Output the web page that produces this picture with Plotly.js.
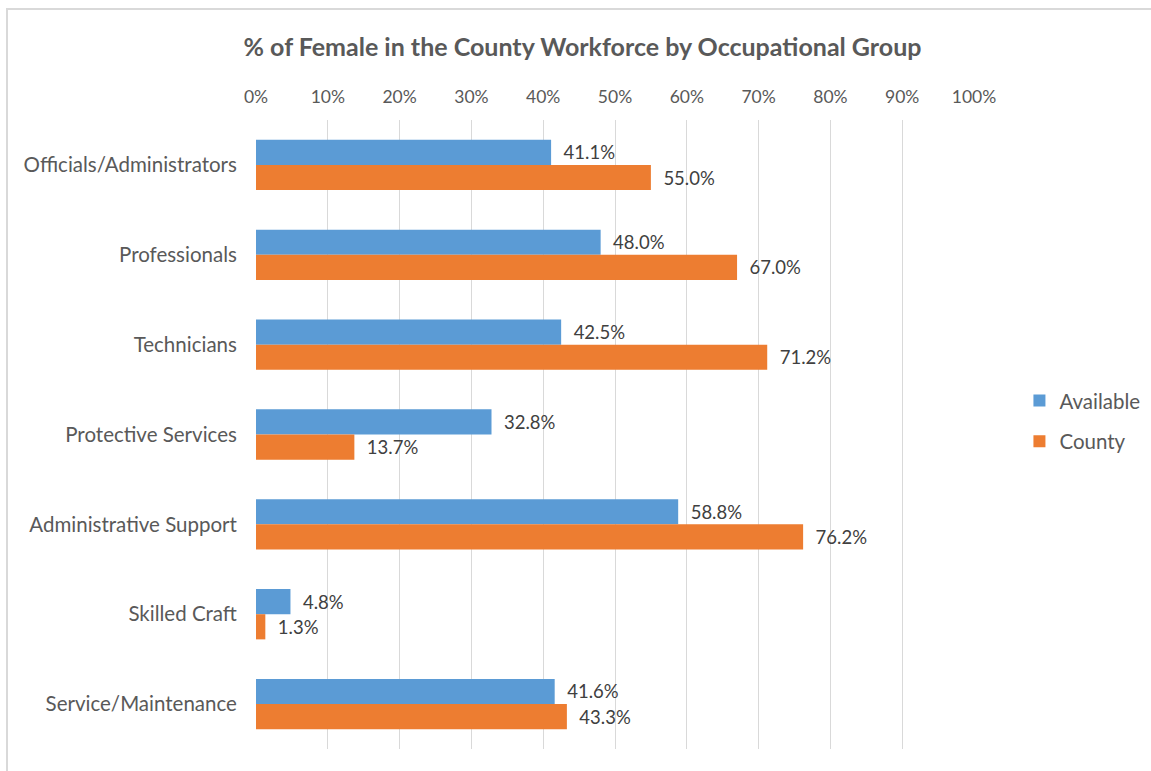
<!DOCTYPE html>
<html>
<head>
<meta charset="utf-8">
<script src="https://cdn.plot.ly/plotly-3.0.1.min.js"></script>
<style>
  html, body { margin: 0; padding: 0; background: #ffffff; }
  #frame { position: absolute; left: 6px; top: 8px; width: 1145px; height: 763px;
           border-top: 2px solid #d9d9d9; border-left: 2px solid #d9d9d9; box-sizing: border-box; pointer-events: none; z-index: 5; }
  #chart { position: absolute; left: 0; top: 0; width: 1151px; height: 771px; }
</style>
</head>
<body>
<div id="chart"></div>
<div id="frame"></div>
<script>
const categories = ["Officials/Administrators", "Professionals", "Technicians", "Protective Services", "Administrative Support", "Skilled Craft", "Service/Maintenance"];
const available = [41.1, 48.0, 42.5, 32.8, 58.8, 4.8, 41.6];
const county = [55.0, 67.0, 71.2, 13.7, 76.2, 1.3, 43.3];
const seriesNames = ["Available", "County"];
const tickVals = [0, 10, 20, 30, 40, 50, 60, 70, 80, 90, 100];
const tickLabels = ["0%", "10%", "20%", "30%", "40%", "50%", "60%", "70%", "80%", "90%", "100%"];

const FONT = "Lato, 'Open Sans', sans-serif";

const mk = (vals, name, color, grp) => ({
  type: 'bar', orientation: 'h', name: name, legendgroup: grp,
  x: vals, y: categories,
  marker: { color: color },
  text: vals.map(v => '\u00a0\u00a0' + v.toFixed(1) + '%'),
  textposition: 'outside',
  textfont: { family: FONT, size: 18.5, color: '#404040' },
  cliponaxis: false,
  hoverinfo: 'x+y'
});

const data = [
  mk(available, seriesNames[0], '#5b9bd5', 'a'),
  mk(county, seriesNames[1], '#ed7d31', 'b')
];

const layout = {
  width: 1151, height: 771,
  paper_bgcolor: '#ffffff', plot_bgcolor: '#ffffff',
  margin: { l: 256, r: 0, t: 120, b: 22 },
  title: { text: '<b>% of Female in the County Workforce by Occupational Group</b>',
           font: { family: FONT, size: 25, color: '#595959' },
           x: 582.5 / 1151, xref: 'container', xanchor: 'center', y: 1 - 47 / 771, yref: 'container', yanchor: 'middle' },
  barmode: 'group',
  bargap: 0.44, bargroupgap: 0,
  xaxis: {
    domain: [0, 718 / 895],
    side: 'top', range: [0, 100], tickmode: 'array', tickvals: tickVals, ticktext: tickLabels,
    showgrid: true, gridcolor: '#d9d9d9', gridwidth: 1,
    zeroline: false, showline: false, ticks: 'outside', ticklen: 9, tickcolor: 'rgba(0,0,0,0)',
    tickfont: { family: FONT, size: 17.5, color: '#595959' },
    fixedrange: true
  },
  yaxis: {
    autorange: 'reversed', showgrid: false, zeroline: false,
    showline: false, ticks: 'outside', ticklen: 14, tickcolor: 'rgba(0,0,0,0)',
    tickfont: { family: FONT, size: 20.5, color: '#595959' },
    fixedrange: true
  },
  legend: {
    x: 0.853, xanchor: 'left', y: 0.521, yanchor: 'middle',
    traceorder: 'grouped',
    font: { family: FONT, size: 20.5, color: '#595959' },
    itemwidth: 30, tracegroupgap: 11
  },
  showlegend: true,
  font: { family: FONT, color: '#595959' }
};

Plotly.newPlot('chart', data, layout, { displayModeBar: false, staticPlot: true });
</script>
</body>
</html>
